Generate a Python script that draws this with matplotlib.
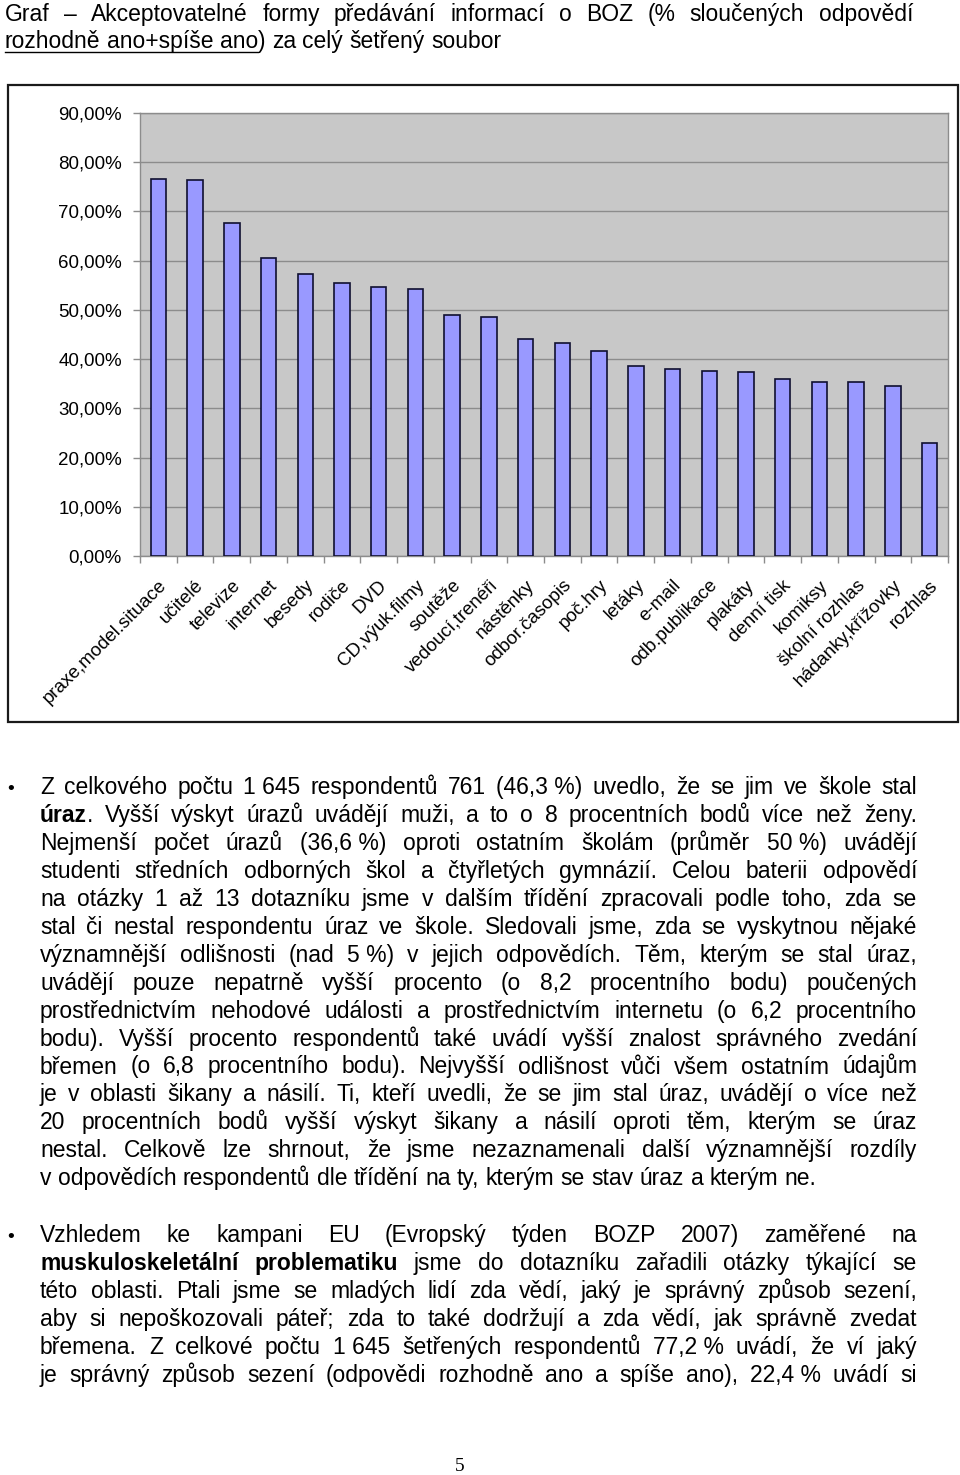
import matplotlib
matplotlib.use("Agg")
import matplotlib.pyplot as plt
from matplotlib import font_manager
from matplotlib.patches import Rectangle
from matplotlib.lines import Line2D
from matplotlib.ticker import FixedLocator, FuncFormatter
import numpy as np

W, H = 960, 1475

# chart data (% of combined answers "rozhodně ano + spíše ano")
categories = [
    "praxe,model.situace", "učitelé", "televize", "internet", "besedy",
    "rodiče", "DVD", "CD,výuk.filmy", "soutěže", "vedoucí,trenéři",
    "nástěnky", "odbor.časopis", "poč.hry", "letáky", "e-mail",
    "odb.publikace", "plakáty", "denní tisk", "komiksy", "školní rozhlas",
    "hádanky,křížovky", "rozhlas",
]
values = [76.5, 76.3, 67.7, 60.5, 57.2, 55.5, 54.7, 54.2, 49.0, 48.6, 44.0,
          43.2, 41.6, 38.5, 38.0, 37.5, 37.3, 36.0, 35.4, 35.4, 34.5, 23.0]
y_ticks = [0, 10, 20, 30, 40, 50, 60, 70, 80, 90]

title_lines = [
    "Graf – Akceptovatelné formy předávání informací o BOZ (% sloučených odpovědí",
    "__rozhodně ano+spíše ano__) za celý šetřený soubor",
]

para1 = [
    "Z celkového počtu 1\u00a0645 respondentů 761 (46,3\u00a0%) uvedlo, že se jim ve škole stal",
    "**úraz**. Vyšší výskyt úrazů uvádějí muži, a to o 8 procentních bodů více než ženy.",
    "Nejmenší počet úrazů (36,6\u00a0%) oproti ostatním školám (průměr 50\u00a0%) uvádějí",
    "studenti středních odborných škol a čtyřletých gymnázií. Celou baterii odpovědí",
    "na otázky 1 až 13 dotazníku jsme v dalším třídění zpracovali podle toho, zda se",
    "stal či nestal respondentu úraz ve škole. Sledovali jsme, zda se vyskytnou nějaké",
    "významnější odlišnosti (nad 5\u00a0%) v jejich odpovědích. Těm, kterým se stal úraz,",
    "uvádějí pouze nepatrně vyšší procento (o 8,2 procentního bodu) poučených",
    "prostřednictvím nehodové události a prostřednictvím internetu (o 6,2 procentního",
    "bodu). Vyšší procento respondentů také uvádí vyšší znalost správného zvedání",
    "břemen (o 6,8 procentního bodu). Nejvyšší odlišnost vůči všem ostatním údajům",
    "je v oblasti šikany a násilí. Ti, kteří uvedli, že se jim stal úraz, uvádějí o více než",
    "20 procentních bodů vyšší výskyt šikany a násilí oproti těm, kterým se úraz",
    "nestal. Celkově lze shrnout, že jsme nezaznamenali další významnější rozdíly",
    "v odpovědích respondentů dle třídění na ty, kterým se stav úraz a kterým ne.",
]
para2 = [
    "Vzhledem ke kampani EU (Evropský týden BOZP 2007) zaměřené na",
    "**muskuloskeletální problematiku** jsme do dotazníku zařadili otázky týkající se",
    "této oblasti. Ptali jsme se mladých lidí zda vědí, jaký je správný způsob sezení,",
    "aby si nepoškozovali páteř; zda to také dodržují a zda vědí, jak správně zvedat",
    "břemena. Z celkové počtu 1\u00a0645 šetřených respondentů 77,2\u00a0% uvádí, že ví jaký",
    "je správný způsob sezení (odpovědi rozhodně ano a spíše ano), 22,4\u00a0% uvádí si",
]

installed = {f.name for f in font_manager.fontManager.ttflist}
NARROW = ["Liberation Sans Narrow", "Liberation Sans"] if "Liberation Sans Narrow" in installed \
    else ["Liberation Sans", "DejaVu Sans"]
SANS = ["Liberation Sans", "DejaVu Sans"]
SERIF = ["Liberation Serif", "DejaVu Serif"]


def fx(px):
    return px / W


def fy(py):
    return 1 - py / H


fig = plt.figure(figsize=(W / 100, H / 100), dpi=100)
fig.patch.set_facecolor("white")

# --- chart -------------------------------------------------------------
fig.patches.append(Rectangle((fx(8), fy(722)), fx(950), (722 - 85) / H,
                             transform=fig.transFigure, fill=False,
                             edgecolor="#1a1a1a", linewidth=1.6, zorder=0))

ax = fig.add_axes([fx(140), fy(556), fx(808), (556 - 113) / H])
ax.set_facecolor("#c8c8c8")
x = np.arange(len(categories))
ax.bar(x, values, width=0.42, color="#9999ff", edgecolor="#101030",
       linewidth=1.2, zorder=3)
ax.set_xlim(-0.5, len(categories) - 0.5)
ax.set_ylim(0, 90)
ax.yaxis.set_major_locator(FixedLocator(y_ticks))
ax.yaxis.set_major_formatter(FuncFormatter(lambda v, p: f"{v:.2f}".replace(".", ",") + "%"))
ax.grid(axis="y", color="#8c8c8c", linewidth=1.0, zorder=1)
ax.set_axisbelow(True)
for s in ax.spines.values():
    s.set_color("#8c8c8c")
    s.set_linewidth(1.0)
ax.tick_params(axis="y", length=5, width=1, color="#8c8c8c", pad=8,
               labelsize=13.5)
for lab in ax.get_yticklabels():
    lab.set_fontfamily(SANS)

ax.set_xticks(x)
ax.set_xticks(np.arange(len(categories) + 1) - 0.5, minor=True)
ax.tick_params(axis="x", which="major", length=0, pad=15)
ax.tick_params(axis="x", which="minor", length=5, width=1, color="#8c8c8c")
ax.set_xticklabels(categories, rotation=45, ha="right", va="top",
                   rotation_mode="anchor", fontsize=13.5, family=SANS)
for lab in ax.get_xticklabels():
    lab.set_x(lab.get_position()[0] - 0.15)

# --- page text -----------------------------------------------------------
renderer = fig.canvas.get_renderer()


def parse(line):
    """Split a line into words; each word is a list of (text, bold, underline)."""
    words = []
    bold = under = False
    for raw in line.split(" "):
        segs = []
        buf = ""
        i = 0
        while i < len(raw):
            if raw.startswith("**", i) or raw.startswith("__", i):
                if buf:
                    segs.append((buf, bold, under))
                buf = ""
                if raw[i] == "*":
                    bold = not bold
                else:
                    under = not under
                i += 2
            else:
                buf += raw[i]
                i += 1
        if buf:
            segs.append((buf, bold, under))
        words.append(segs)
    return words


def width_of(s, bold, size, family=NARROW):
    t = fig.text(0, 0, s, fontsize=size, family=family,
                 weight="bold" if bold else "normal")
    w = t.get_window_extent(renderer).width
    t.remove()
    return w


def natural_width(line, size):
    words = parse(line)
    total = sum(width_of(s, b, size) for w in words for s, b, u in w)
    space = width_of("a a", False, size) - width_of("aa", False, size)
    return total + space * (len(words) - 1)


# pick the body size so that the widest justified line still fits the column
widest = max(natural_width(l, 10) for l in para1[:-1] + para2 + title_lines[:1])
BODY = min(16.5, 10 * 872 / widest)


def draw_line(line, x0, x1, base, justify, size=None, family=NARROW):
    size = size or BODY
    words = parse(line)
    wlist = [[width_of(s, b, size, family) for s, b, u in w] for w in words]
    total = sum(sum(w) for w in wlist)
    space = width_of("a a", False, size, family) - width_of("aa", False, size, family)
    if justify and len(words) > 1:
        space = (x1 - x0 - total) / (len(words) - 1)
    cx = x0
    ul = []
    for segs, ws in zip(words, wlist):
        for (s, b, u), w in zip(segs, ws):
            fig.text(fx(cx), fy(base), s, fontsize=size, family=family,
                     weight="bold" if b else "normal", ha="left",
                     va="baseline", color="black")
            if u:
                ul += [cx, cx + w]
            cx += w
        cx += space
    if ul:
        fig.lines.append(Line2D([fx(min(ul)), fx(max(ul))], [fy(base + 4)] * 2,
                                transform=fig.transFigure,
                                color="black", linewidth=1.0))


# title
draw_line(title_lines[0], 5, 913, 21, True)
draw_line(title_lines[1], 5, 913, 48, False)

# paragraph 1
LH = 27.95
for i, line in enumerate(para1):
    draw_line(line, 40, 917, 794 + i * LH, i < len(para1) - 1)
fig.text(fx(7), fy(794), "•", fontsize=14, family=SANS, va="baseline")

# paragraph 2
for i, line in enumerate(para2):
    draw_line(line, 40, 917, 1242 + i * LH, True)
fig.text(fx(7), fy(1242), "•", fontsize=14, family=SANS, va="baseline")

# page number
fig.text(fx(460), fy(1471), "5", fontsize=14, family=SERIF, ha="center",
         va="baseline")

fig.savefig("out.png", dpi=100)
